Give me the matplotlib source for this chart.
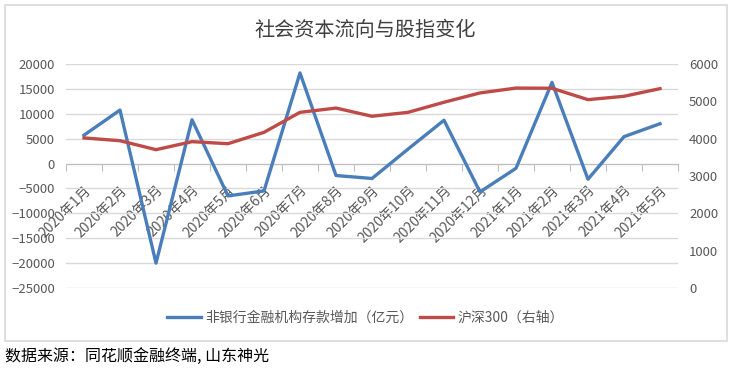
import matplotlib
matplotlib.use("Agg")
import matplotlib.pyplot as plt
from matplotlib.patches import Rectangle

plt.rcParams['font.family'] = ['Noto Sans CJK SC', 'DejaVu Sans']

months = ['2020年1月', '2020年2月', '2020年3月', '2020年4月', '2020年5月', '2020年6月',
          '2020年7月', '2020年8月', '2020年9月', '2020年10月', '2020年11月', '2020年12月',
          '2021年1月', '2021年2月', '2021年3月', '2021年4月', '2021年5月']
# 非银行金融机构存款增加（亿元）
deposits = [5700, 10750, -20000, 8800, -6500, -5500, 18200, -2400, -3000, 2900,
            8700, -5700, -950, 16300, -3150, 5400, 8000]
# 沪深300
hs300 = [4020, 3945, 3705, 3920, 3865, 4170, 4705, 4820, 4600, 4705,
         4975, 5225, 5355, 5350, 5045, 5135, 5340]

left_ticks = list(range(-25000, 20001, 5000))
right_ticks = list(range(0, 6001, 1000))

W, H = 731, 370
fig = plt.figure(figsize=(W / 100, H / 100), dpi=100)
fig.patches.append(Rectangle((5 / W, 1 - 341 / H), 722 / W, 336 / H, transform=fig.transFigure,
                             fill=False, edgecolor='#d9d9d9', linewidth=1.2))

ax = fig.add_axes([66 / W, 1 - 288 / H, 612 / W, 224 / H])
ax2 = ax.twinx()

x = list(range(len(months)))
ax.plot(x, deposits, color='#4a7ebb', lw=2.4, label='非银行金融机构存款增加（亿元）', zorder=3)
ax2.plot(x, hs300, color='#be4b48', lw=2.4, label='沪深300（右轴）', zorder=3)

ax.set_xlim(-0.5, len(months) - 0.5)
ax.set_ylim(-25000, 20000)
ax2.set_ylim(0, 6000)
ax.set_yticks(left_ticks)
ax2.set_yticks(right_ticks)
ax.yaxis.grid(True, color='#d9d9d9', lw=1)
ax.set_axisbelow(True)

for a in (ax, ax2):
    for s in ('top', 'left', 'right'):
        a.spines[s].set_visible(False)
    a.tick_params(axis='y', length=0, labelsize=9.5, labelcolor='#595959', pad=8)
ax2.spines['bottom'].set_visible(False)
ax.spines['bottom'].set_position(('data', 0))
ax.spines['bottom'].set_color('#bfbfbf')

ax.set_xticks([i - 0.5 for i in range(len(months) + 1)])
ax.set_xticklabels([])
ax.tick_params(axis='x', which='major', length=5, color='#bfbfbf', direction='out')
ax.set_xticks(x, minor=True)
ax.set_xticklabels(months, minor=True, rotation=45, ha='right', va='top',
                   rotation_mode='anchor', fontsize=10, color='#595959')
ax.tick_params(axis='x', which='minor', length=0, pad=14)

fig.text(0.5, 1 - 30 / H, '社会资本流向与股指变化', ha='center', va='center',
         fontsize=14.5, color='#404040')

h1, l1 = ax.get_legend_handles_labels()
h2, l2 = ax2.get_legend_handles_labels()
fig.legend(h1 + h2, l1 + l2, loc='center', bbox_to_anchor=(0.5, 1 - 318 / H), ncol=2,
           frameon=False, fontsize=10, labelcolor='#595959', handlelength=2.4,
           handletextpad=0.3, columnspacing=0.5)

fig.text(5 / W, 1 - 356 / H, '数据来源：同花顺金融终端, 山东神光', ha='left', va='center',
         fontsize=11.5, color='black')

fig.savefig('out.png', dpi=100)
